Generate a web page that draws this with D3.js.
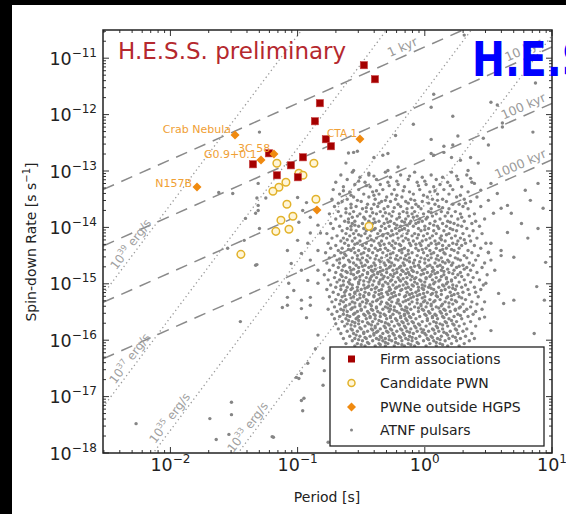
<!DOCTYPE html>
<html><head><meta charset="utf-8">
<script src="https://cdn.jsdelivr.net/npm/d3@7"></script>
<style>
body{margin:0;background:#fff}
svg{display:block}
text{font-family:"DejaVu Sans",sans-serif}
</style>
</head><body>
<svg id="chart" width="566" height="514"></svg>
<script>
// ---------------- DATA (log10 period [s], log10 spin-down rate [s/s]) ----------------
const firmLogP    = [-0.479,-0.392,-0.825,-0.864,-0.778,-0.738,-1.226,-0.958,-1.351,-1.053,-1.163,-0.998];
const firmLogPdot = [-11.124,-11.373,-11.798,-12.118,-12.437,-12.561,-12.686,-12.757,-12.881,-12.899,-13.076,-13.111];

const candLogP    = [-1.163,-0.872,-0.990,-0.958,-1.092,-1.147,-1.194,-1.084,-0.856,-1.037,-1.131,-1.171,-1.068,-0.439,-1.446];
const candLogPdot = [-12.863,-12.863,-13.040,-13.076,-13.200,-13.289,-13.360,-13.590,-13.502,-13.803,-13.874,-14.070,-14.034,-13.981,-14.478];

const pwnNames    = ["Crab Nebula","G0.9+0.1","3C 58","N157B","CTA 1",""];
const pwnLogP     = [-1.492,-1.288,-1.186,-1.791,-0.510,-0.848];
const pwnLogPdot  = [-12.362,-12.805,-12.699,-13.284,-12.433,-13.691];

const ageLinesKyr = [1, 10, 100, 1000];
const ageLabels   = ["1 kyr","10 kyr","100 kyr","1000 kyr"];
const edotLines   = [1e33, 1e35, 1e37, 1e39];
const edotExp     = ["33","35","37","39"];

const xTickExp = [-2,-1,0,1];
const yTickExp = [-11,-12,-13,-14,-15,-16,-17,-18];

const legendLabels = ["Firm associations","Candidate PWN","PWNe outside HGPS","ATNF pulsars"];

// ATNF pulsars, dense part: [log10 Pdot, [log10 P ...]]
const atnfRows = [
[-13.02,[-0.57,-0.31,-0.08,0.21]],
[-13.07,[-0.66,-0.44,-0.19,0.05,0.33]],
[-13.09,[-0.40,-0.12,0.25]],
[-13.11,[-0.51,-0.27,-0.02,0.14]],
[-13.15,[-0.61,-0.38,-0.13,0.09,0.26]],
[-13.18,[-0.52,-0.22,0.00]],
[-13.20,[-0.70,-0.47,-0.29,-0.06,0.18,0.37]],
[-13.24,[-0.55,-0.35,-0.21,0.01,0.12]],
[-13.26,[-0.46,-0.28,-0.05,0.20]],
[-13.28,[-0.64,-0.43,-0.16,0.07,0.29]],
[-13.33,[-0.72,-0.52,-0.33,-0.24,-0.04,0.15,0.22]],
[-13.35,[-0.64,-0.38,-0.17,0.08]],
[-13.37,[-0.59,-0.41,-0.12,0.04,0.34]],
[-13.41,[-0.67,-0.48,-0.36,-0.26,-0.09,0.10,0.19]],
[-13.43,[-0.58,-0.40,-0.22,-0.01,0.28]],
[-13.46,[-0.56,-0.44,-0.30,-0.18,0.02,0.25,0.41]],
[-13.50,[-0.73,-0.61,-0.39,-0.23,-0.11,0.06,0.14,0.31]],
[-13.52,[-0.53,-0.31,-0.08,0.10]],
[-13.54,[-0.65,-0.50,-0.34,-0.27,-0.15,-0.02,0.17,0.36]],
[-13.57,[-0.68,-0.36,-0.13,0.03,0.32]],
[-13.59,[-0.58,-0.45,-0.40,-0.21,-0.07,0.08,0.22,0.27]],
[-13.63,[-0.71,-0.54,-0.37,-0.29,-0.19,-0.05,0.11,0.30,0.44]],
[-13.65,[-0.58,-0.46,-0.24,-0.10,0.14]],
[-13.67,[-0.62,-0.49,-0.42,-0.32,-0.14,-0.03,0.05,0.19,0.34]],
[-13.72,[-0.68,-0.56,-0.46,-0.35,-0.25,-0.17,-0.08,0.03,0.13,0.24]],
[-13.74,[-0.62,-0.41,-0.31,-0.14,0.05,0.18]],
[-13.76,[-0.75,-0.59,-0.51,-0.38,-0.28,-0.20,-0.10,-0.01,0.09,0.28,0.39]],
[-13.80,[-0.66,-0.53,-0.43,-0.33,-0.26,-0.13,-0.06,0.06,0.16,0.21,0.35]],
[-13.82,[-0.57,-0.48,-0.20,-0.09,0.02,0.29]],
[-13.85,[-0.70,-0.60,-0.47,-0.40,-0.30,-0.22,-0.15,-0.04,0.01,0.12,0.26,0.47]],
[-13.89,[-0.63,-0.55,-0.44,-0.36,-0.27,-0.18,-0.11,-0.02,0.08,0.18,0.31,0.40]],
[-13.91,[-0.60,-0.39,-0.29,-0.16,-0.05,0.20]],
[-13.93,[-0.74,-0.57,-0.49,-0.41,-0.32,-0.24,-0.12,-0.07,0.04,0.14,0.23,0.37]],
[-13.96,[-0.55,-0.43,-0.22,-0.14,0.07,0.26]],
[-13.98,[-0.67,-0.58,-0.52,-0.45,-0.34,-0.28,-0.19,-0.09,0.00,0.10,0.17,0.29,0.43]],
[-14.02,[-0.72,-0.61,-0.48,-0.39,-0.31,-0.23,-0.16,-0.05,0.03,0.11,0.20,0.33]],
[-14.04,[-0.58,-0.40,-0.18,0.00,0.22]],
[-14.06,[-0.65,-0.54,-0.46,-0.42,-0.35,-0.26,-0.20,-0.13,-0.03,0.07,0.15,0.25,0.38]],
[-14.11,[-0.77,-0.62,-0.56,-0.47,-0.37,-0.29,-0.22,-0.14,-0.08,0.02,0.09,0.19,0.30,0.45]],
[-14.13,[-0.52,-0.33,-0.25,-0.05,0.17]],
[-14.15,[-0.69,-0.59,-0.50,-0.43,-0.33,-0.27,-0.18,-0.10,-0.01,0.06,0.13,0.24,0.35]],
[-14.19,[-0.73,-0.64,-0.55,-0.45,-0.38,-0.30,-0.21,-0.15,-0.06,0.04,0.12,0.21,0.28,0.41]],
[-14.22,[-0.61,-0.42,-0.13,0.01,0.13,0.31]],
[-14.24,[-0.66,-0.57,-0.51,-0.40,-0.34,-0.25,-0.17,-0.09,-0.02,0.08,0.16,0.26,0.36]],
[-14.28,[-0.76,-0.63,-0.53,-0.46,-0.36,-0.28,-0.23,-0.12,-0.04,0.05,0.11,0.22,0.32,0.48]],
[-14.30,[-0.55,-0.32,-0.20,-0.07,0.09,0.25]],
[-14.32,[-0.70,-0.60,-0.49,-0.42,-0.35,-0.26,-0.19,-0.11,-0.03,0.03,0.14,0.19,0.29,0.39]],
[-14.37,[-0.74,-0.65,-0.56,-0.47,-0.39,-0.31,-0.24,-0.16,-0.07,0.01,0.09,0.17,0.27,0.44]],
[-14.39,[-0.60,-0.44,-0.35,-0.18,-0.02,0.14,0.21]],
[-14.41,[-0.68,-0.58,-0.52,-0.44,-0.37,-0.29,-0.20,-0.13,-0.05,0.04,0.12,0.23,0.34]],
[-14.45,[-0.78,-0.66,-0.55,-0.48,-0.41,-0.33,-0.25,-0.18,-0.10,-0.01,0.07,0.15,0.26,0.37,0.50]],
[-14.47,[-0.63,-0.50,-0.27,-0.13,0.05,0.16]],
[-14.50,[-0.71,-0.62,-0.53,-0.45,-0.38,-0.30,-0.22,-0.15,-0.06,0.02,0.10,0.20,0.31,0.42]],
[-14.54,[-0.75,-0.64,-0.57,-0.49,-0.43,-0.34,-0.27,-0.19,-0.12,-0.03,0.05,0.13,0.24,0.33]],
[-14.56,[-0.67,-0.53,-0.39,-0.23,-0.16,0.00,0.09,0.26]],
[-14.58,[-0.69,-0.60,-0.51,-0.46,-0.36,-0.29,-0.21,-0.14,-0.08,0.03,0.11,0.18,0.28,0.40]],
[-14.61,[-0.59,-0.45,-0.35,-0.28,-0.12,-0.04,0.14,0.19]],
[-14.63,[-0.77,-0.67,-0.56,-0.50,-0.40,-0.32,-0.26,-0.17,-0.09,0.00,0.08,0.16,0.22,0.35,0.47]],
[-14.67,[-0.72,-0.63,-0.54,-0.47,-0.39,-0.31,-0.24,-0.16,-0.05,0.04,0.12,0.21,0.30,0.38]],
[-14.69,[-0.64,-0.49,-0.42,-0.27,-0.19,-0.08,0.02,0.10,0.27]],
[-14.71,[-0.68,-0.59,-0.52,-0.44,-0.35,-0.28,-0.20,-0.11,-0.04,0.06,0.14,0.25,0.33,0.45]],
[-14.74,[-0.56,-0.39,-0.30,-0.22,-0.14,0.00,0.18,0.31]],
[-14.76,[-0.75,-0.65,-0.58,-0.48,-0.42,-0.33,-0.25,-0.18,-0.10,-0.02,0.07,0.13,0.23,0.36]],
[-14.78,[-0.62,-0.52,-0.41,-0.35,-0.17,-0.09,0.06,0.15]],
[-14.80,[-0.70,-0.61,-0.53,-0.45,-0.37,-0.30,-0.22,-0.13,-0.06,0.02,0.10,0.19,0.28,0.41]],
[-14.82,[-0.58,-0.45,-0.37,-0.24,-0.15,-0.01,0.08,0.22]],
[-14.84,[-0.79,-0.66,-0.56,-0.49,-0.40,-0.34,-0.27,-0.19,-0.12,-0.03,0.05,0.15,0.26,0.34,0.49]],
[-14.87,[-0.65,-0.51,-0.42,-0.32,-0.25,-0.10,0.04,0.13,0.29]],
[-14.89,[-0.71,-0.62,-0.54,-0.46,-0.38,-0.29,-0.21,-0.14,-0.07,0.01,0.09,0.17,0.24,0.38]],
[-14.91,[-0.55,-0.43,-0.33,-0.17,-0.08,0.01,0.17]],
[-14.93,[-0.76,-0.67,-0.59,-0.51,-0.43,-0.35,-0.26,-0.20,-0.11,-0.04,0.06,0.12,0.21,0.31,0.43]],
[-14.95,[-0.64,-0.48,-0.40,-0.27,-0.19,-0.03,0.11,0.21]],
[-14.97,[-0.69,-0.60,-0.52,-0.44,-0.36,-0.31,-0.23,-0.15,-0.08,0.00,0.08,0.18,0.27,0.36]],
[-15.00,[-0.59,-0.52,-0.36,-0.29,-0.14,-0.06,0.07,0.17]],
[-15.02,[-0.74,-0.64,-0.57,-0.48,-0.41,-0.33,-0.25,-0.17,-0.10,-0.02,0.04,0.14,0.22,0.32,0.46]],
[-15.04,[-0.66,-0.44,-0.33,-0.20,-0.09,0.00,0.15,0.25]],
[-15.06,[-0.70,-0.61,-0.53,-0.45,-0.38,-0.28,-0.22,-0.13,-0.05,0.03,0.11,0.19,0.29,0.39]],
[-15.08,[-0.57,-0.47,-0.39,-0.23,-0.15,-0.02,0.05,0.22]],
[-15.10,[-0.77,-0.66,-0.58,-0.50,-0.42,-0.34,-0.27,-0.18,-0.11,-0.01,0.07,0.16,0.24,0.34,0.44]],
[-15.12,[-0.62,-0.53,-0.36,-0.28,-0.19,-0.05,0.13]],
[-15.15,[-0.72,-0.63,-0.55,-0.47,-0.39,-0.30,-0.24,-0.14,-0.07,0.02,0.09,0.20,0.30,0.40]],
[-15.17,[-0.55,-0.44,-0.34,-0.26,-0.10,-0.01,0.06,0.26]],
[-15.19,[-0.68,-0.59,-0.51,-0.44,-0.36,-0.29,-0.20,-0.12,-0.04,0.05,0.13,0.23,0.35]],
[-15.21,[-0.63,-0.48,-0.40,-0.23,-0.15,-0.06,0.09,0.21]],
[-15.23,[-0.75,-0.65,-0.56,-0.48,-0.40,-0.33,-0.25,-0.16,-0.09,0.00,0.10,0.18,0.27,0.42]],
[-15.25,[-0.58,-0.51,-0.35,-0.27,-0.11,-0.02,0.17,0.29]],
[-15.28,[-0.70,-0.62,-0.53,-0.46,-0.37,-0.28,-0.21,-0.13,-0.06,0.04,0.12,0.21,0.32]],
[-15.30,[-0.66,-0.45,-0.38,-0.21,-0.15,0.00,0.08,0.24]],
[-15.32,[-0.73,-0.64,-0.57,-0.49,-0.41,-0.34,-0.26,-0.17,-0.10,-0.01,0.07,0.16,0.25,0.37,0.47]],
[-15.34,[-0.55,-0.46,-0.30,-0.22,-0.06,0.02,0.19]],
[-15.36,[-0.67,-0.59,-0.51,-0.43,-0.35,-0.29,-0.20,-0.12,-0.03,0.05,0.14,0.22,0.30,0.41]],
[-15.39,[-0.62,-0.51,-0.42,-0.27,-0.19,-0.03,0.05,0.13]],
[-15.41,[-0.71,-0.63,-0.55,-0.47,-0.38,-0.31,-0.24,-0.15,-0.08,0.01,0.09,0.19,0.28,0.36]],
[-15.43,[-0.57,-0.38,-0.29,-0.14,-0.05,0.11,0.27]],
[-15.45,[-0.76,-0.66,-0.58,-0.50,-0.42,-0.33,-0.27,-0.18,-0.11,-0.02,0.06,0.15,0.24,0.33,0.45]],
[-15.47,[-0.64,-0.50,-0.41,-0.24,-0.16,-0.01,0.16,0.24]],
[-15.49,[-0.69,-0.61,-0.53,-0.45,-0.37,-0.28,-0.22,-0.14,-0.05,0.03,0.12,0.20,0.31,0.40]],
[-15.52,[-0.55,-0.44,-0.35,-0.20,-0.13,0.04,0.13]],
[-15.54,[-0.73,-0.64,-0.56,-0.48,-0.40,-0.32,-0.25,-0.16,-0.09,0.00,0.08,0.17,0.26,0.38]],
[-15.56,[-0.61,-0.47,-0.39,-0.31,-0.16,0.01,0.09,0.28]],
[-15.58,[-0.67,-0.59,-0.52,-0.43,-0.35,-0.27,-0.19,-0.12,-0.04,0.06,0.14,0.23,0.34]],
[-15.60,[-0.53,-0.43,-0.27,-0.19,-0.11,0.06,0.15]],
[-15.62,[-0.71,-0.62,-0.54,-0.46,-0.39,-0.30,-0.23,-0.15,-0.07,0.02,0.10,0.19,0.29,0.43]],
[-15.65,[-0.60,-0.52,-0.36,-0.22,-0.14,0.02,0.21]],
[-15.67,[-0.65,-0.57,-0.49,-0.41,-0.34,-0.26,-0.18,-0.10,-0.02,0.07,0.16,0.25,0.36]],
[-15.69,[-0.55,-0.45,-0.31,-0.17,-0.09,0.09,0.17]],
[-15.71,[-0.70,-0.61,-0.52,-0.44,-0.37,-0.29,-0.21,-0.13,-0.05,0.04,0.12,0.22,0.31]],
[-15.73,[-0.58,-0.42,-0.28,-0.20,-0.04,0.14,0.23]],
[-15.75,[-0.63,-0.55,-0.47,-0.39,-0.32,-0.24,-0.16,-0.08,0.01,0.09,0.18,0.27,0.40]],
[-15.78,[-0.51,-0.39,-0.31,-0.15,-0.07,0.10]],
[-15.80,[-0.68,-0.58,-0.50,-0.42,-0.35,-0.27,-0.19,-0.11,-0.03,0.06,0.14,0.24,0.33]],
[-15.82,[-0.57,-0.41,-0.26,-0.18,-0.01,0.07,0.25]],
[-15.84,[-0.61,-0.53,-0.45,-0.37,-0.30,-0.22,-0.14,-0.06,0.03,0.11,0.20,0.30]],
[-15.86,[-0.48,-0.38,-0.29,-0.12,-0.02,0.15]],
[-15.88,[-0.66,-0.56,-0.48,-0.40,-0.33,-0.25,-0.17,-0.09,0.00,0.08,0.17,0.26,0.37]],
[-15.91,[-0.54,-0.40,-0.24,-0.16,0.01,0.18]],
[-15.93,[-0.59,-0.51,-0.43,-0.35,-0.28,-0.20,-0.12,-0.04,0.05,0.13,0.22,0.32]],
[-15.95,[-0.47,-0.34,-0.19,-0.10,0.06,0.24]],
[-15.97,[-0.64,-0.55,-0.46,-0.38,-0.31,-0.23,-0.15,-0.07,0.02,0.10,0.19,0.28,0.39]],
[-15.99,[-0.52,-0.36,-0.28,-0.13,0.03,0.12]],
[-16.01,[-0.57,-0.49,-0.41,-0.33,-0.26,-0.18,-0.10,-0.01,0.07,0.16,0.25,0.35]],
[-16.04,[-0.45,-0.31,-0.23,-0.06,0.09]],
[-16.06,[-0.62,-0.53,-0.44,-0.36,-0.29,-0.21,-0.13,-0.05,0.04,0.12,0.21,0.31]],
[-16.08,[-0.50,-0.35,-0.18,-0.11,0.14]],
[-16.10,[-0.55,-0.47,-0.39,-0.31,-0.24,-0.16,-0.08,0.01,0.09,0.18,0.27]]
];

// ATNF pulsars, sparse part: [log10 P, log10 Pdot]
const atnfScatter = [
[0.31,-10.59],[0.07,-11.64],[0.05,-11.87],[0.22,-12.03],[-0.09,-12.17],[0.52,-11.78],[0.57,-11.83],
[0.87,-11.44],[0.85,-12.31],[0.61,-12.15],[0.61,-12.22],[0.05,-12.44],[0.26,-12.38],[0.15,-12.56],
[0.22,-12.54],[0.46,-12.42],[0.50,-12.54],[0.07,-12.72],[-0.23,-12.37],[-1.30,-12.31],
[-0.60,-12.68],[-0.56,-12.67],[-0.53,-12.65],[-0.29,-12.69],[-0.40,-12.76],[-0.33,-12.72],
[-0.62,-12.86],[-0.56,-12.99],[-0.44,-13.04],[-0.21,-12.93],[-0.29,-12.99],
[0.89,-13.22],[0.93,-13.66],[0.89,-14.02],[0.81,-14.19],[0.70,-14.53],[0.65,-14.09],[0.76,-13.93],
[0.68,-13.75],[0.54,-13.75],[0.60,-13.66],[0.50,-13.52],[0.65,-13.61],[0.83,-13.52],[0.79,-13.34],
[0.52,-14.28],[0.50,-14.44],[0.57,-13.40],[0.52,-13.22],[0.44,-13.34],[0.39,-13.22],[0.36,-13.13],
[0.34,-12.99],[0.28,-12.81],[0.42,-12.86],[0.21,-12.76],[0.36,-12.76],[0.05,-12.69],[0.15,-12.67],
[0.60,-14.41],[0.52,-14.58],[0.48,-14.99],[0.55,-14.76],[0.60,-14.50],[0.58,-15.17],[0.70,-15.29],
[0.94,-15.29],[0.62,-15.35],[0.86,-15.88],[0.47,-15.59],[0.52,-15.83],[0.95,-14.62],[0.88,-15.05],
[-1.31,-13.22],[-1.25,-13.48],[-1.31,-13.61],[-1.00,-13.47],[-0.93,-13.56],[-0.96,-13.70],[-0.90,-13.82],
[-0.99,-13.91],[-0.84,-13.96],[-0.90,-14.10],[-0.82,-14.10],[-0.92,-14.28],[-1.00,-14.23],[-1.08,-14.41],
[-0.97,-14.46],[-0.84,-14.41],[-0.90,-14.58],[-1.05,-14.64],[-0.97,-14.76],[-0.84,-14.76],[-0.92,-14.94],
[-0.84,-14.99],[-1.03,-15.12],[-1.08,-15.24],[-0.90,-15.24],[-1.07,-14.99],[-0.97,-15.29],[-1.12,-15.42],
[-1.62,-13.38],[-1.51,-13.40],[-1.32,-13.48],[-1.41,-13.84],[-1.33,-13.75],[-1.42,-14.23],[-1.55,-14.37],
[-1.33,-14.67],[-1.31,-13.70],[-1.30,-14.02],[-1.32,-14.66],[-1.45,-15.67],
[-1.08,-15.38],[-0.97,-15.44],[-0.84,-15.91],[-0.86,-16.15],[-0.80,-16.32],[-0.79,-16.54],[-0.80,-16.80],
[-0.97,-16.59],[-0.99,-16.68],[-0.97,-17.07],[-0.95,-17.03],[-0.96,-17.25],[-1.19,-17.72],[-0.76,-17.81],
[-0.93,-15.60],[-0.90,-15.38],[-1.01,-16.66],[-0.92,-16.41],
[-2.27,-17.48],[-1.69,-17.39],[-1.52,-17.10],[-1.52,-17.32],[-1.64,-17.76],[-1.54,-17.67],[-1.20,-17.71]
];

// ---------------- LAYOUT ----------------
const L = 103, R = 552, T = 30, B = 453;
const svg = d3.select("#chart");
const x = d3.scaleLog().domain([Math.pow(10,-2.53), 10]).range([L, R]);
const y = d3.scaleLog().domain([1e-18, Math.pow(10,-10.5)]).range([B, T]);
const P = v => Math.pow(10, v);

svg.append("rect").attr("width",566).attr("height",514).attr("fill","#fff");
svg.append("rect").attr("width",566).attr("height",5).attr("fill","#000");
svg.append("rect").attr("width",12).attr("height",514).attr("fill","#000");

svg.append("defs").append("clipPath").attr("id","clip")
  .append("rect").attr("x",L).attr("y",T).attr("width",R-L).attr("height",B-T);
const plot = svg.append("g").attr("clip-path","url(#clip)");

// guide lines
const yr = 3.156e7, I4pi2 = 4*Math.PI*Math.PI*1e45;
const xs = x.domain();
ageLinesKyr.forEach(k => {
  const tau = k*1000*yr;
  plot.append("line")
    .attr("x1", x(xs[0])).attr("y1", y(xs[0]/(2*tau)))
    .attr("x2", x(xs[1])).attr("y2", y(xs[1]/(2*tau)))
    .attr("stroke","#8a8a8a").attr("stroke-width",1.5).attr("stroke-dasharray","12,8");
});
edotLines.forEach(E => {
  const f = p => E*p*p*p/I4pi2;
  plot.append("line")
    .attr("x1", x(xs[0])).attr("y1", y(f(xs[0])))
    .attr("x2", x(xs[1])).attr("y2", y(f(xs[1])))
    .attr("stroke","#9a9a9a").attr("stroke-width",1.3).attr("stroke-dasharray","1.3,3");
});

// ATNF pulsars
const atnf = [];
atnfRows.forEach(r => r[1].forEach(lp => atnf.push([lp, r[0]])));
atnfScatter.forEach(d => atnf.push(d));
plot.selectAll("circle.atnf").data(atnf).join("circle").attr("class","atnf")
  .attr("cx", d => x(P(d[0]))).attr("cy", d => y(P(d[1])))
  .attr("r", 1.7).attr("fill","#858585");

// line labels
const ageLabelX = [406, 527, 527, 524];
ageLinesKyr.forEach((k,i) => {
  const tau = k*1000*yr;
  const p0 = x.invert(ageLabelX[i]);
  const px = x(p0), py = y(p0/(2*tau));
  const dx = x(p0*2)-px, dy = y(p0*2/(2*tau))-py;
  const ang = Math.atan2(dy,dx), nx = Math.sin(ang)*9, ny = -Math.cos(ang)*9;
  plot.append("text").attr("transform",`translate(${px+nx},${py+ny}) rotate(${ang*180/Math.PI})`)
    .attr("text-anchor","middle").attr("dy","0.35em").attr("font-size",12.5).attr("fill","#9a9a9a")
    .text(ageLabels[i]);
});
const edotLabelX = [254, 176, 136, 137];
edotLines.forEach((E,i) => {
  const f = p => E*p*p*p/I4pi2;
  const p0 = x.invert(edotLabelX[i]);
  const px = x(p0), py = y(f(p0));
  const dx = x(p0*1.2)-px, dy = y(f(p0*1.2))-py;
  const ang = Math.atan2(dy,dx), nx = Math.sin(ang)*8, ny = -Math.cos(ang)*8;
  const t = plot.append("text").attr("transform",`translate(${px+nx},${py+ny}) rotate(${ang*180/Math.PI})`)
    .attr("text-anchor","middle").attr("dy","0.35em").attr("font-size",12).attr("fill","#a0a0a0");
  t.append("tspan").text("10");
  t.append("tspan").attr("dy",-5).attr("font-size",8).text(edotExp[i]);
  t.append("tspan").attr("dy",5).text(" erg/s");
});

// candidate PWN
plot.selectAll("circle.cand").data(candLogP).join("circle").attr("class","cand")
  .attr("cx", (d,i) => x(P(d))).attr("cy", (d,i) => y(P(candLogPdot[i])))
  .attr("r", 3.8).attr("fill","#fff6d8").attr("stroke","#e2b22a").attr("stroke-width",1.5);

// firm associations
plot.selectAll("rect.firm").data(firmLogP).join("rect").attr("class","firm")
  .attr("x", d => x(P(d))-3.6).attr("y", (d,i) => y(P(firmLogPdot[i]))-3.6)
  .attr("width",7.2).attr("height",7.2).attr("fill","#a50000").attr("stroke","#c84040").attr("stroke-width",0.6);

// PWNe outside HGPS
const diamond = d3.symbol().type(d3.symbolDiamond2).size(52);
plot.selectAll("path.pwn").data(pwnLogP).join("path").attr("class","pwn")
  .attr("transform", (d,i) => `translate(${x(P(d))},${y(P(pwnLogPdot[i]))})`)
  .attr("d", diamond).attr("fill","#f08a10");

// PWN name labels
const pwnLabelPos = [[231,133,"end"],[204,158,"start"],[238,152,"start"],[192,187,"end"],[327,137,"start"],[0,0,"start"]];
pwnNames.forEach((n,i) => {
  if (!n) return;
  svg.append("text").attr("x",pwnLabelPos[i][0]).attr("y",pwnLabelPos[i][1])
    .attr("text-anchor",pwnLabelPos[i][2]).attr("font-size", i===4?10.5:11).attr("fill","#f0a035").text(n);
});

// ticks (all four sides, inward)
const tickCol = "#333";
const majX = xTickExp.map(e => P(e));
const minX = [];
for (let e=-3; e<=0; e++) for (let m=2; m<=9; m++) { const v=m*P(e); if (v>=xs[0] && v<=xs[1]) minX.push(v); }
const majY = yTickExp.map(e => P(e));
const minY = [];
for (let e=-18; e<=-11; e++) for (let m=2; m<=9; m++) { const v=m*P(e); if (v<=y.domain()[1]) minY.push(v); }
const tg = svg.append("g").attr("stroke",tickCol).attr("stroke-width",1);
[[majX,6],[minX,3]].forEach(([arr,len]) => arr.forEach(v => {
  tg.append("line").attr("x1",x(v)).attr("x2",x(v)).attr("y1",B).attr("y2",B-len);
  tg.append("line").attr("x1",x(v)).attr("x2",x(v)).attr("y1",T).attr("y2",T+len);
}));
[[majY,6],[minY,3]].forEach(([arr,len]) => arr.forEach(v => {
  tg.append("line").attr("y1",y(v)).attr("y2",y(v)).attr("x1",L).attr("x2",L+len);
  tg.append("line").attr("y1",y(v)).attr("y2",y(v)).attr("x1",R).attr("x2",R-len);
}));

// frame
svg.append("rect").attr("x",L).attr("y",T).attr("width",R-L).attr("height",B-T)
  .attr("fill","none").attr("stroke","#222").attr("stroke-width",1.5);

// tick labels
xTickExp.forEach(e => {
  const t = svg.append("text").attr("x", x(P(e))).attr("y", 471).attr("text-anchor","middle")
    .attr("font-size",17.5).attr("fill","#222");
  t.append("tspan").text("10");
  t.append("tspan").attr("dy",-8).attr("font-size",12).text(e<0 ? "\u2212"+(-e) : String(e));
});
yTickExp.forEach(e => {
  const t = svg.append("text").attr("x", 97).attr("y", y(P(e))+6.5).attr("text-anchor","end")
    .attr("font-size",17.5).attr("fill","#222");
  t.append("tspan").text("10");
  t.append("tspan").attr("dy",-8).attr("font-size",12).text("\u2212"+(-e));
});

// axis titles
svg.append("text").attr("x",327).attr("y",502).attr("text-anchor","middle")
  .attr("font-size",14).attr("fill","#222").text("Period [s]");
const yl = svg.append("text").attr("transform","translate(36,242) rotate(-90)").attr("text-anchor","middle")
  .attr("font-size",14).attr("fill","#222");
yl.append("tspan").text("Spin-down Rate [s s");
yl.append("tspan").attr("dy",-6).attr("font-size",10).text("\u22121");
yl.append("tspan").attr("dy",6).text("]");

// legend
const lg = svg.append("g");
lg.append("rect").attr("x",330).attr("y",347).attr("width",214).attr("height",99)
  .attr("fill","#fff").attr("stroke","#222").attr("stroke-width",1.3);
const ly = [359,383,407,430];
legendLabels.forEach((s,i) => {
  lg.append("text").attr("x",380).attr("y",ly[i]+5).attr("font-size",14).attr("fill","#222").text(s);
});
lg.append("rect").attr("x",348).attr("y",ly[0]-3.5).attr("width",7).attr("height",7).attr("fill","#a50000");
lg.append("circle").attr("cx",351.5).attr("cy",ly[1]).attr("r",3.5).attr("fill","#fff6d8").attr("stroke","#e2b22a").attr("stroke-width",1.5);
lg.append("path").attr("transform",`translate(351.5,${ly[2]})`).attr("d",diamond).attr("fill","#f08a10");
lg.append("circle").attr("cx",351.5).attr("cy",ly[3]).attr("r",1.5).attr("fill","#858585");

// titles
svg.append("text").attr("x",118).attr("y",59).attr("font-size",23).attr("fill","#b5282e").text("H.E.S.S. preliminary");
svg.append("text").attr("transform","translate(472,76) scale(0.82,1)")
  .attr("font-family","'Liberation Sans',Arial,sans-serif").attr("font-weight","bold")
  .attr("font-size",48).attr("fill","#0000ff").text("H.E.S.S.");
</script>
</body></html>
